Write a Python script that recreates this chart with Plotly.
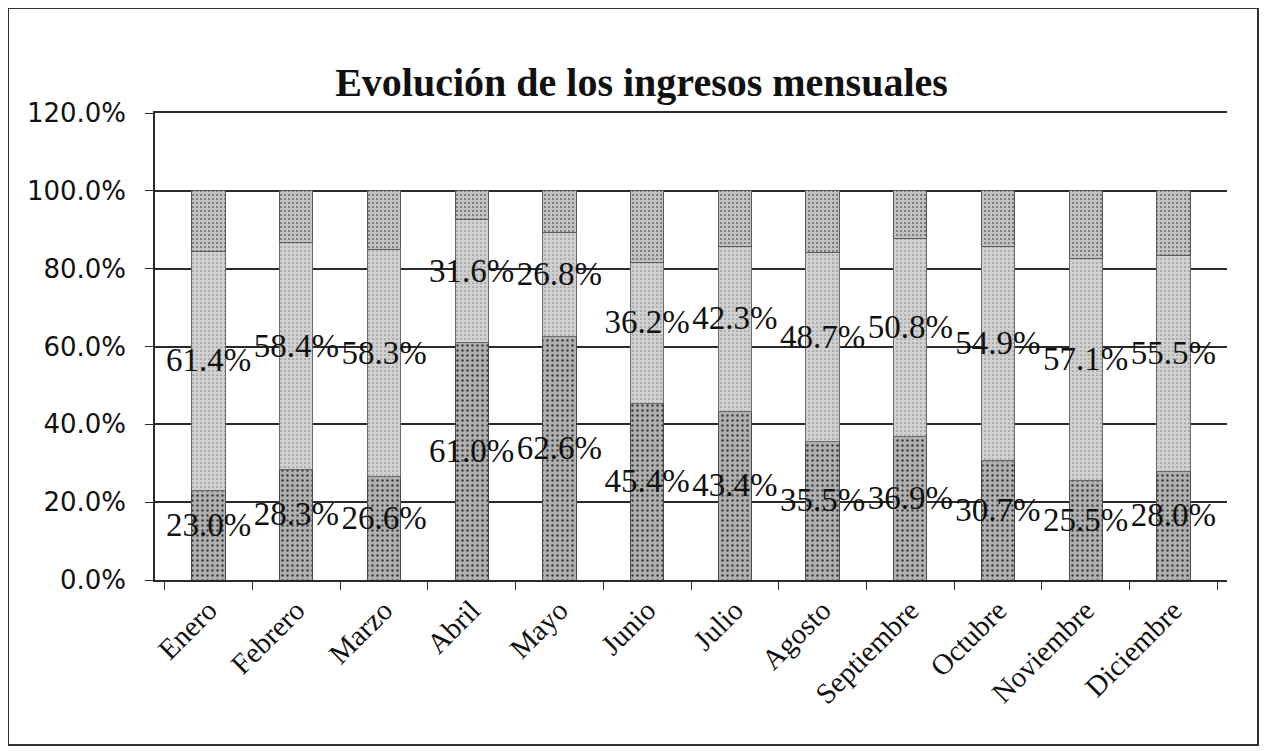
import plotly.graph_objects as go

meses = ["Enero", "Febrero", "Marzo", "Abril", "Mayo", "Junio", "Julio",
         "Agosto", "Septiembre", "Octubre", "Noviembre", "Diciembre"]
serie_inferior = [23.0, 28.3, 26.6, 61.0, 62.6, 45.4, 43.4, 35.5, 36.9, 30.7, 25.5, 28.0]
serie_media = [61.4, 58.4, 58.3, 31.6, 26.8, 36.2, 42.3, 48.7, 50.8, 54.9, 57.1, 55.5]
serie_superior = [round(100 - a - b, 1) for a, b in zip(serie_inferior, serie_media)]
ticks_y = [0, 0.2, 0.4, 0.6, 0.8, 1.0, 1.2]

inf = [v / 100 for v in serie_inferior]
med = [v / 100 for v in serie_media]
sup = [v / 100 for v in serie_superior]

SERIF = "Liberation Serif, Times New Roman, serif"

fig = go.Figure()
fig.add_trace(go.Bar(
    x=meses, y=inf, width=0.38,
    marker=dict(color="#a4a4a4", line=dict(color="#4a4a4a", width=1),
                pattern=dict(shape=".", fgcolor="#3a3a3a", bgcolor="#b0b0b0",
                             size=5, solidity=0.18, fillmode="replace")),
    showlegend=False, hoverinfo="skip"))
fig.add_trace(go.Bar(
    x=meses, y=med, width=0.38,
    marker=dict(color="#cacaca", line=dict(color="#6a6a6a", width=1),
                pattern=dict(shape=".", fgcolor="#8c8c8c", bgcolor="#d0d0d0",
                             size=4, solidity=0.15, fillmode="replace")),
    showlegend=False, hoverinfo="skip"))
fig.add_trace(go.Bar(
    x=meses, y=sup, width=0.38,
    marker=dict(color="#bdbdbd", line=dict(color="#5a5a5a", width=1),
                pattern=dict(shape=".", fgcolor="#666666", bgcolor="#c2c2c2",
                             size=4, solidity=0.2, fillmode="replace")),
    showlegend=False, hoverinfo="skip"))

# data labels centred in each labelled segment
fig.add_trace(go.Scatter(
    x=meses, y=[a / 2 + 0.02 for a in inf], mode="text",
    text=[f"{v:.1f}%" for v in serie_inferior],
    textfont=dict(family=SERIF, size=33, color="#111"),
    showlegend=False, hoverinfo="skip"))
fig.add_trace(go.Scatter(
    x=meses, y=[a + b / 2 + 0.02 for a, b in zip(inf, med)], mode="text",
    text=[f"{v:.1f}%" for v in serie_media],
    textfont=dict(family=SERIF, size=33, color="#111"),
    showlegend=False, hoverinfo="skip"))

fig.update_layout(
    barmode="stack",
    width=1267, height=751,
    paper_bgcolor="white", plot_bgcolor="white",
    margin=dict(l=147, r=48, t=105, b=179),
    title=dict(text="<b>Evolución de los ingresos mensuales</b>",
               x=0.5, xanchor="center", y=1 - 74 / 751, yanchor="middle",
               font=dict(family=SERIF, size=40, color="#111")),
    font=dict(family="DejaVu Sans", color="#111"),
)
fig.update_yaxes(
    range=[0, 1.2], tickvals=ticks_y, tickformat=".1%",
    showgrid=True, gridcolor="#2a2a2a", gridwidth=1.5,
    showline=True, linecolor="#2a2a2a", linewidth=1.5,
    ticks="outside", ticklen=8, tickcolor="#2a2a2a", ticklabelstandoff=14,
    tickfont=dict(family="DejaVu Sans", size=26, color="#111"),
    zeroline=False)
fig.update_xaxes(
    tickangle=-45, showline=True, linecolor="#2a2a2a", linewidth=1.5,
    mirror=True,
    ticks="outside", ticklen=8, tickcolor="#2a2a2a", tickson="boundaries",
    tickfont=dict(family=SERIF, size=29, color="#111"),
    showgrid=False)

# outer chart border
fig.add_shape(type="rect", xref="paper", yref="paper",
              x0=(0 - 147) / 1072, x1=(1250 - 147) / 1072,
              y0=(572 - 737) / 467, y1=(572 - 0) / 467,
              line=dict(color="#333", width=2), fillcolor="rgba(0,0,0,0)")

fig.write_html("out.html")
